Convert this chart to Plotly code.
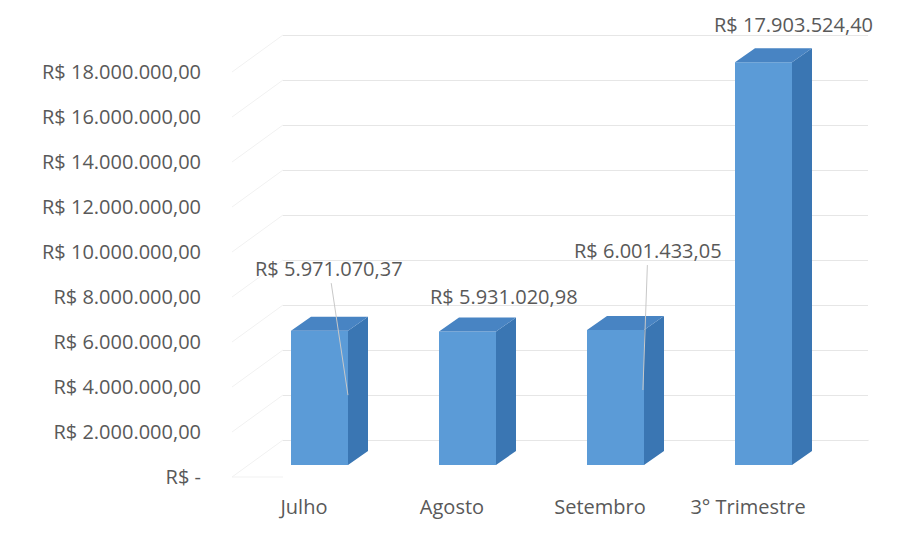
import plotly.graph_objects as go

categories = ["Julho", "Agosto", "Setembro", "3° Trimestre"]
values = [5971070.37, 5931020.98, 6001433.05, 17903524.40]
tick_values = [0, 2e6, 4e6, 6e6, 8e6, 10e6, 12e6, 14e6, 16e6, 18e6]
tick_labels = ["R$ -", "R$ 2.000.000,00", "R$ 4.000.000,00", "R$ 6.000.000,00",
               "R$ 8.000.000,00", "R$ 10.000.000,00", "R$ 12.000.000,00",
               "R$ 14.000.000,00", "R$ 16.000.000,00", "R$ 18.000.000,00"]


def brl(v):
    s = f"{v:,.2f}".replace(",", "X").replace(".", ",").replace("X", ".")
    return "R$ " + s


FONT = "Open Sans"
FS = 20
TXT = "#595959"
GRID = "#e6e6e6"
FRONT, SIDE, TOP = "#5b9bd7", "#3a76b3", "#4884c3"

# pixel scale: 148 px per category, 22.5 px per million
PX_X = 148.0
PX_Y = 22.5 / 1e6
Y_RANGE = [-0.6667e6, 20.311e6]
X_RANGE = [-0.486, 3.912]

# 3d depth of the chart box (wall / floor) and of each bar
BOX_DX, BOX_DY = 51 / PX_X, 37 / PX_Y
BAR_DX, BAR_DY = 20 / PX_X, 14 / PX_Y
BAR_OFF, BAR_W = -13 / PX_X, 57 / PX_X
BAR_LIFT = 12 / PX_Y

fig = go.Figure()

# left wall diagonals and floor edges (front layer)
wx, wy = [], []
xs = X_RANGE[0]
for v in tick_values:
    wx += [xs, xs + BOX_DX, None]
    wy += [v, v + BOX_DY, None]
xf = (818 - 304) / PX_X
wx += [xs, xf, xf + BOX_DX, None]
wy += [0, 0, BOX_DY, None]
fig.add_trace(go.Scatter(x=wx, y=wy, mode="lines", line=dict(color="#f1f1f1", width=1),
                         xaxis="x", yaxis="y", hoverinfo="skip"))

# back wall (gridlines only)
fig.add_trace(go.Scatter(x=[None], y=[None], xaxis="x2", yaxis="y2", hoverinfo="skip"))

# bars
idx = list(range(len(categories)))
fig.add_trace(go.Bar(x=idx, y=values, offset=BAR_OFF, width=BAR_W,
                     marker=dict(color=FRONT, line=dict(width=0)),
                     xaxis="x2", yaxis="y3", hoverinfo="skip"))

sx, sy, tx, ty = [], [], [], []
for i, v in zip(idx, values):
    xl = i + BAR_OFF
    xr = xl + BAR_W
    sx += [xr, xr, xr + BAR_DX, xr + BAR_DX, xr, None]
    sy += [0, v, v + BAR_DY, BAR_DY, 0, None]
    tx += [xl, xl + BAR_DX, xr + BAR_DX, xr, xl, None]
    ty += [v, v + BAR_DY, v + BAR_DY, v, v, None]
fig.add_trace(go.Scatter(x=sx, y=sy, fill="toself", fillcolor=SIDE, mode="lines",
                         line=dict(width=0, color=SIDE), xaxis="x2", yaxis="y3",
                         hoverinfo="skip"))
fig.add_trace(go.Scatter(x=tx, y=ty, fill="toself", fillcolor=TOP, mode="lines",
                         line=dict(width=0, color=TOP), xaxis="x2", yaxis="y3",
                         hoverinfo="skip"))

# data labels (some with leader lines)
label_pos = [
    dict(arrow=True, tipdx=0.297, tipfrac=0.52, ax=-19, ay=-127),
    dict(arrow=False, xshift=52, yshift=35),
    dict(arrow=True, tipdx=0.29, tipfrac=0.555, ax=5, ay=-140),
    dict(arrow=False, xshift=45, yshift=38),
]
for i, v, p in zip(idx, values, label_pos):
    if p["arrow"]:
        fig.add_annotation(x=i + p["tipdx"], y=v * p["tipfrac"], xref="x2", yref="y3",
                           text=brl(v), showarrow=True, arrowhead=0, arrowwidth=1,
                           arrowcolor="#c8c8c8", ax=p["ax"], ay=p["ay"],
                           font=dict(family=FONT, size=FS, color=TXT))
    else:
        fig.add_annotation(x=i, y=v, xref="x2", yref="y3", text=brl(v), showarrow=False,
                           xshift=p["xshift"], yshift=p["yshift"],
                           font=dict(family=FONT, size=FS, color=TXT))

# page body has an 8px margin, so the figure is shifted by that amount
dom2 = [(283 - 232) / 651, (868 - 232) / 651]
x2_range = [(283 - 304) / PX_X, (868 - 304) / PX_X]

fig.update_layout(
    width=903, height=537,
    margin=dict(l=224, r=28, t=12, b=53),
    paper_bgcolor="white", plot_bgcolor="white",
    showlegend=False,
    font=dict(family=FONT, size=FS, color=TXT),
    xaxis=dict(domain=[0, 1], range=X_RANGE, tickvals=idx, ticktext=categories,
               showgrid=False, zeroline=False, showline=False, fixedrange=True,
               ticks="", ticklabelstandoff=1,
               tickfont=dict(family=FONT, size=FS, color=TXT), anchor="y"),
    yaxis=dict(range=Y_RANGE, tickvals=tick_values, ticktext=tick_labels,
               showgrid=False, zeroline=False, showline=False, anchor="x",
               ticks="outside", ticklen=26, tickcolor="rgba(0,0,0,0)",
               tickfont=dict(family=FONT, size=FS, color=TXT)),
    xaxis2=dict(domain=dom2, range=x2_range, visible=False, anchor="y2"),
    yaxis2=dict(range=[r - BOX_DY for r in Y_RANGE], tickvals=tick_values,
                showticklabels=False, showgrid=True, gridcolor=GRID, gridwidth=1,
                zeroline=False, showline=False, anchor="x2"),
    yaxis3=dict(range=[r - BAR_LIFT for r in Y_RANGE], visible=False,
                overlaying="y2", anchor="x2"),
)

fig.write_html("out.html")
